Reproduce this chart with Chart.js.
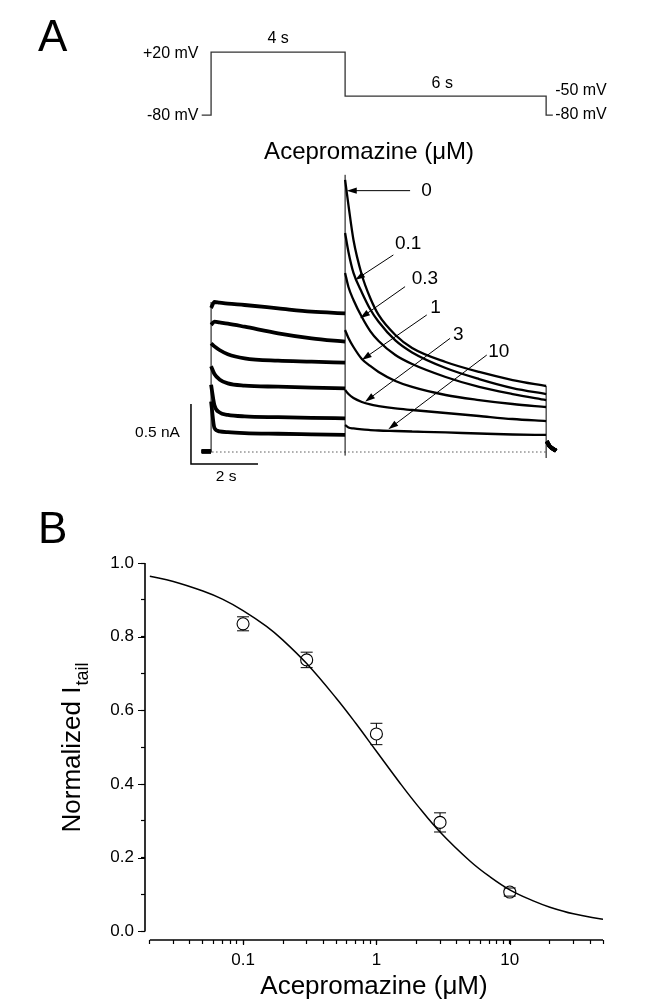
<!DOCTYPE html>
<html>
<head>
<meta charset="utf-8">
<title>Acepromazine block of tail current</title>
<script src="https://cdn.jsdelivr.net/npm/chart.js@4.4.1/dist/chart.umd.min.js"></script>
<style>
  html, body { margin: 0; padding: 0; background: #fff; }
  body { position: relative; width: 650px; height: 1007px; overflow: hidden;
         font-family: "Liberation Sans", Arial, sans-serif; color: #000; }
  .panel-letter { position: absolute; left: 38px; font-size: 44px; line-height: 1; }
  #letterA { top: 14px; }
  #letterB { top: 506px; }
  #traceCanvas { position: absolute; left: 0; top: 0; }
  #doseCanvas { position: absolute; left: 0; top: 500px; }
</style>
</head>
<body>
<canvas id="traceCanvas" width="650" height="500"></canvas>
<canvas id="doseCanvas" width="650" height="507"></canvas>
<div class="panel-letter" id="letterA">A</div>
<div class="panel-letter" id="letterB">B</div>
<script>
const FONT = '"Liberation Sans", Arial, sans-serif';
Chart.defaults.font.family = FONT;
Chart.defaults.color = '#000';

// ---------- panel A : protocol + current traces (time in s, current in nA) ----------
const concLabels = ['0', '0.1', '0.3', '1', '3', '10'];

const protocolTime = [-0.28, 0, 0, 4, 4, 10, 10, 10.2];
const protocolVolt = [-80, -80, 20, 20, -50, -50, -80, -80];

const holdTime = [-0.28, 0];
const holdCurrent = [0.005, 0.005];

// +20 mV step
const stepTime = [0, 0.1, 0.25, 0.5, 1, 2, 3, 4];
const step0   = [1.2, 1.25, 1.245, 1.237, 1.225, 1.197, 1.169, 1.156];
const step01  = [1.06, 1.086, 1.08, 1.07, 1.044, 0.989, 0.947, 0.919];
const step03  = [0.906, 0.88, 0.85, 0.815, 0.781, 0.761, 0.753, 0.744];
const step1   = [0.715, 0.65, 0.605, 0.572, 0.553, 0.544, 0.537, 0.531];
const step3   = [0.56, 0.39, 0.33, 0.31, 0.297, 0.29, 0.285, 0.281];
const step10  = [0.42, 0.2, 0.172, 0.165, 0.158, 0.152, 0.147, 0.142];

// -50 mV tail
const tailTime = [4, 4.1, 4.25, 4.5, 4.75, 5, 5.5, 6, 7, 8, 9, 10];
const tail0   = [2.267, 2.058, 1.767, 1.475, 1.283, 1.142, 0.975, 0.867, 0.75, 0.667, 0.6, 0.55];
const tail01  = [1.825, 1.667, 1.492, 1.33, 1.19, 1.085, 0.93, 0.83, 0.7, 0.608, 0.533, 0.483];
const tail03  = [1.492, 1.375, 1.267, 1.125, 1.008, 0.925, 0.808, 0.733, 0.625, 0.542, 0.483, 0.433];
const tail1   = [1.017, 0.95, 0.875, 0.775, 0.717, 0.667, 0.592, 0.542, 0.475, 0.433, 0.4, 0.375];
const tail3   = [0.517, 0.483, 0.45, 0.417, 0.396, 0.383, 0.363, 0.35, 0.325, 0.3, 0.275, 0.258];
const tail10  = [0.225, 0.204, 0.196, 0.188, 0.183, 0.179, 0.175, 0.171, 0.163, 0.154, 0.146, 0.142];

// back to -80 mV
const offTime = [10.02, 10.1, 10.3];
const offCurrent = [0.09, 0.05, 0.01];

// capacitive transients (vertical strokes)
const transientTime = [0, 0, null, 4, 4, null, 10, 10];
const transientCurrent = [0, 1.25, null, -0.03, 2.31, null, -0.05, 0.55];

const zeroLineTime = [-0.2, 10.05];
const scaleBarTime = [-0.6, -0.6, 1.4];
const scaleBarCurrent = [0.4, -0.1, -0.1];

const stepByConc = [step0, step01, step03, step1, step3, step10];
const tailByConc = [tail0, tail01, tail03, tail1, tail3, tail10];

// arrows: tail -> tip, in (s, nA)
const arrowFrom = [[5.94, 2.178], [5.44, 1.642], [5.79, 1.378], [6.437, 1.142], [7.133, 0.947], [8.228, 0.808]];
const arrowTo   = [[4.05, 2.178], [4.297, 1.433], [4.447, 1.114], [4.497, 0.767], [4.596, 0.419], [5.291, 0.189]];
const concLabelAt = [[6.27, 2.178], [5.49, 1.733], [5.99, 1.442], [6.54, 1.2], [7.22, 0.975], [8.27, 0.833]];

function pts(xs, ys) {
  return xs.map((x, i) => ({ x: x, y: ys[i] }));
}

function traceData(i) {
  const gap = { x: null, y: null };
  return [].concat(pts(holdTime, holdCurrent), [gap],
                   pts(stepTime, stepByConc[i]), [gap],
                   pts(tailTime, tailByConc[i]), [gap],
                   pts(offTime, offCurrent));
}

const traceSets = concLabels.map((c, i) => ({
  label: c + ' µM',
  data: traceData(i),
  yAxisID: 'y',
  borderColor: '#000',
  borderWidth: 2.3,
  pointRadius: 0,
  cubicInterpolationMode: 'monotone',
  segment: {
    borderWidth: ctx => (ctx.p0.parsed.x < 3.999 || ctx.p0.parsed.x > 10.001) ? 3.8 : 2.3
  }
}));

const panelALabels = [
  { text: '+20 mV', t: -0.375, v: 17, axis: 'yV', align: 'right', size: 16 },
  { text: '-80 mV', t: -0.375, v: -80, axis: 'yV', align: 'right', size: 16 },
  { text: '4 s', t: 2.0, v: 42, axis: 'yV', align: 'center', size: 16 },
  { text: '6 s', t: 6.9, v: -29.5, axis: 'yV', align: 'center', size: 16 },
  { text: '-50 mV', t: 10.27, v: -40.5, axis: 'yV', align: 'left', size: 16 },
  { text: '-80 mV', t: 10.27, v: -79, axis: 'yV', align: 'left', size: 16 },
  { text: 'Acepromazine (μM)', t: 4.715, v: 2.5, axis: 'y', align: 'center', size: 24 },
  { text: '0.5 nA', t: -0.93, v: 0.158, axis: 'y', align: 'right', size: 15.5 },
  { text: '2 s', t: 0.45, v: -0.208, axis: 'y', align: 'center', size: 15.5 }
];

function drawArrow(ctx, x1, y1, x2, y2) {
  const a = Math.atan2(y2 - y1, x2 - x1);
  const len = 10, half = 3.2;
  const c = Math.cos(a), s = Math.sin(a);
  ctx.beginPath();
  ctx.moveTo(x1, y1);
  ctx.lineTo(x2 - c * len * 0.7, y2 - s * len * 0.7);
  ctx.stroke();
  ctx.beginPath();
  ctx.moveTo(x2, y2);
  ctx.lineTo(x2 - c * len + s * half, y2 - s * len - c * half);
  ctx.lineTo(x2 - c * len - s * half, y2 - s * len + c * half);
  ctx.closePath();
  ctx.fill();
}

const panelAAnnotations = {
  id: 'panelAAnnotations',
  afterDatasetsDraw(chart) {
    const { ctx, scales } = chart;
    const xs = scales.x;
    ctx.save();
    ctx.fillStyle = '#000';
    ctx.strokeStyle = '#000';
    ctx.lineWidth = 1;
    arrowFrom.forEach((f, i) => {
      const to = arrowTo[i];
      drawArrow(ctx, xs.getPixelForValue(f[0]), scales.y.getPixelForValue(f[1]),
                xs.getPixelForValue(to[0]), scales.y.getPixelForValue(to[1]));
    });
    ctx.textBaseline = 'middle';
    ctx.font = '19px ' + FONT;
    ctx.textAlign = 'left';
    concLabels.forEach((c, i) => {
      ctx.fillText(c, xs.getPixelForValue(concLabelAt[i][0]), scales.y.getPixelForValue(concLabelAt[i][1]));
    });
    panelALabels.forEach(l => {
      ctx.font = l.size + 'px ' + FONT;
      ctx.textAlign = l.align;
      ctx.fillText(l.text, xs.getPixelForValue(l.t), scales[l.axis].getPixelForValue(l.v));
    });
    ctx.restore();
  }
};

new Chart(document.getElementById('traceCanvas'), {
  type: 'line',
  data: {
    datasets: [
      ...traceSets,
      {
        label: 'transients',
        data: pts(transientTime, transientCurrent),
        yAxisID: 'y', borderColor: '#000', borderWidth: 1, pointRadius: 0
      },
      {
        label: 'zero',
        data: pts(zeroLineTime, [0, 0]),
        yAxisID: 'y', borderColor: '#000', borderWidth: 1, borderDash: [1, 3], pointRadius: 0
      },
      {
        label: 'scale bar',
        data: pts(scaleBarTime, scaleBarCurrent),
        yAxisID: 'y', borderColor: '#000', borderWidth: 1.5, pointRadius: 0
      },
      {
        label: 'protocol',
        data: pts(protocolTime, protocolVolt),
        yAxisID: 'yV', borderColor: '#333', borderWidth: 1.3, pointRadius: 0
      }
    ]
  },
  options: {
    responsive: false,
    animation: false,
    devicePixelRatio: 1,
    layout: { padding: 0 },
    plugins: { legend: { display: false }, tooltip: { enabled: false } },
    scales: {
      x: { type: 'linear', min: -6.3, max: 13.1, display: false },
      y: { type: 'linear', min: -0.4, max: 3.7667, display: false },
      yV: { type: 'linear', min: -691, max: 102.7, display: false }
    }
  },
  plugins: [panelAAnnotations]
});

// ---------- panel B : concentration-response ----------
const concentrations = [0.1, 0.3, 1, 3, 10];
const normTail = [0.835, 0.737, 0.536, 0.296, 0.107];
const normTailSem = [0.019, 0.021, 0.029, 0.026, 0.011];

// fitted curve
const fitConc = [0.02, 0.03, 0.05, 0.07, 0.1, 0.15, 0.2, 0.3, 0.5, 0.7, 1, 1.5, 2, 3, 5, 7, 10, 15, 20, 30, 50];
const fitTail = [0.964, 0.95, 0.924, 0.902, 0.871, 0.828, 0.79, 0.727, 0.633, 0.565, 0.489, 0.403, 0.345, 0.27, 0.192, 0.15, 0.113, 0.083, 0.066, 0.048, 0.033];

const xTickValues = [0.02, 0.03, 0.04, 0.05, 0.06, 0.07, 0.08, 0.09,
                     0.1, 0.2, 0.3, 0.4, 0.5, 0.6, 0.7, 0.8, 0.9,
                     1, 2, 3, 4, 5, 6, 7, 8, 9, 10, 20, 30, 40, 50];
const xTickLabels = { 0.1: '0.1', 1: '1', 10: '10' };
const yTickValues = [0, 0.1, 0.2, 0.3, 0.4, 0.5, 0.6, 0.7, 0.8, 0.9, 1.0];
const yMajorTicks = [0, 0.2, 0.4, 0.6, 0.8, 1.0];
const xMajorTicks = [0.1, 1, 10];

const POINT_R = 6;

const panelBExtras = {
  id: 'panelBExtras',
  afterDatasetsDraw(chart) {
    const { ctx, scales, chartArea } = chart;
    const xs = scales.x, ys = scales.y;
    ctx.save();
    ctx.strokeStyle = '#000';
    ctx.fillStyle = '#000';

    // axis lines
    ctx.lineWidth = 1.6;
    ctx.beginPath();
    ctx.moveTo(chartArea.left, ys.getPixelForValue(0));
    ctx.lineTo(chartArea.left, ys.getPixelForValue(1));
    ctx.moveTo(xs.getPixelForValue(0.02), chartArea.bottom);
    ctx.lineTo(xs.getPixelForValue(50), chartArea.bottom);
    ctx.stroke();

    // longer major ticks
    ctx.lineWidth = 1.2;
    ctx.beginPath();
    yMajorTicks.forEach(v => {
      const py = Math.round(ys.getPixelForValue(v)) + 0.5;
      ctx.moveTo(chartArea.left - 7, py);
      ctx.lineTo(chartArea.left, py);
    });
    xMajorTicks.forEach(v => {
      const px = Math.round(xs.getPixelForValue(v)) + 0.5;
      ctx.moveTo(px, chartArea.bottom);
      ctx.lineTo(px, chartArea.bottom + 5);
    });
    ctx.stroke();

    // error bars
    ctx.lineWidth = 1;
    concentrations.forEach((c, i) => {
      const px = xs.getPixelForValue(c);
      const py = ys.getPixelForValue(normTail[i]);
      const top = ys.getPixelForValue(normTail[i] + normTailSem[i]);
      const bot = ys.getPixelForValue(normTail[i] - normTailSem[i]);
      ctx.beginPath();
      if (py - top > POINT_R) { ctx.moveTo(px, py - POINT_R); ctx.lineTo(px, top); }
      if (bot - py > POINT_R) { ctx.moveTo(px, py + POINT_R); ctx.lineTo(px, bot); }
      ctx.moveTo(px - 6, top); ctx.lineTo(px + 6, top);
      ctx.moveTo(px - 6, bot); ctx.lineTo(px + 6, bot);
      ctx.stroke();
    });

    // y title with subscript
    ctx.translate(80, 248);
    ctx.rotate(-Math.PI / 2);
    ctx.textBaseline = 'alphabetic';
    ctx.textAlign = 'left';
    ctx.font = '26px ' + FONT;
    const main = 'Normalized I';
    const wMain = ctx.measureText(main).width;
    ctx.font = '18px ' + FONT;
    const wSub = ctx.measureText('tail').width;
    const x0 = -(wMain + wSub) / 2;
    ctx.font = '26px ' + FONT;
    ctx.fillText(main, x0, 0);
    ctx.font = '18px ' + FONT;
    ctx.fillText('tail', x0 + wMain + 1, 8);
    ctx.restore();
  }
};

new Chart(document.getElementById('doseCanvas'), {
  type: 'line',
  data: {
    datasets: [
      {
        label: 'Mean',
        data: pts(concentrations, normTail),
        showLine: false,
        pointRadius: POINT_R,
        pointBorderWidth: 1.1,
        pointBorderColor: '#000',
        pointBackgroundColor: 'rgba(0,0,0,0)'
      },
      {
        label: 'Fit',
        data: pts(fitConc, fitTail),
        borderColor: '#000',
        borderWidth: 1.5,
        pointRadius: 0,
        tension: 0.4
      }
    ]
  },
  options: {
    responsive: false,
    animation: false,
    devicePixelRatio: 1,
    layout: { padding: { left: 0, top: 63, right: 47, bottom: 0 } },
    plugins: { legend: { display: false }, tooltip: { enabled: false } },
    scales: {
      x: {
        type: 'logarithmic',
        min: 0.0184,
        max: 50,
        afterFit: s => { s.height = 67; },
        afterBuildTicks: s => { s.ticks = xTickValues.map(v => ({ value: v })); },
        border: { display: false },
        grid: { drawOnChartArea: false, tickLength: 4, tickWidth: 1.2, tickColor: '#000' },
        ticks: {
          autoSkip: false, maxRotation: 0, padding: 6,
          font: { size: 17 }, color: '#000',
          callback: v => xTickLabels[v] || ''
        },
        title: {
          display: true, text: 'Acepromazine (μM)', color: '#000',
          font: { size: 26 }, padding: { top: 0, bottom: 5 }
        }
      },
      y: {
        type: 'linear',
        min: -0.0231,
        max: 1.0,
        afterFit: s => { s.width = 145; },
        afterBuildTicks: s => { s.ticks = yTickValues.map(v => ({ value: v })); },
        border: { display: false },
        grid: { drawOnChartArea: false, tickLength: 4, tickWidth: 1.2, tickColor: '#000' },
        ticks: {
          autoSkip: false, padding: 7,
          font: { size: 17 }, color: '#000',
          callback: v => (Math.round(v * 10) % 2 === 0 ? v.toFixed(1) : '')
        }
      }
    }
  },
  plugins: [panelBExtras]
});
</script>
</body>
</html>
